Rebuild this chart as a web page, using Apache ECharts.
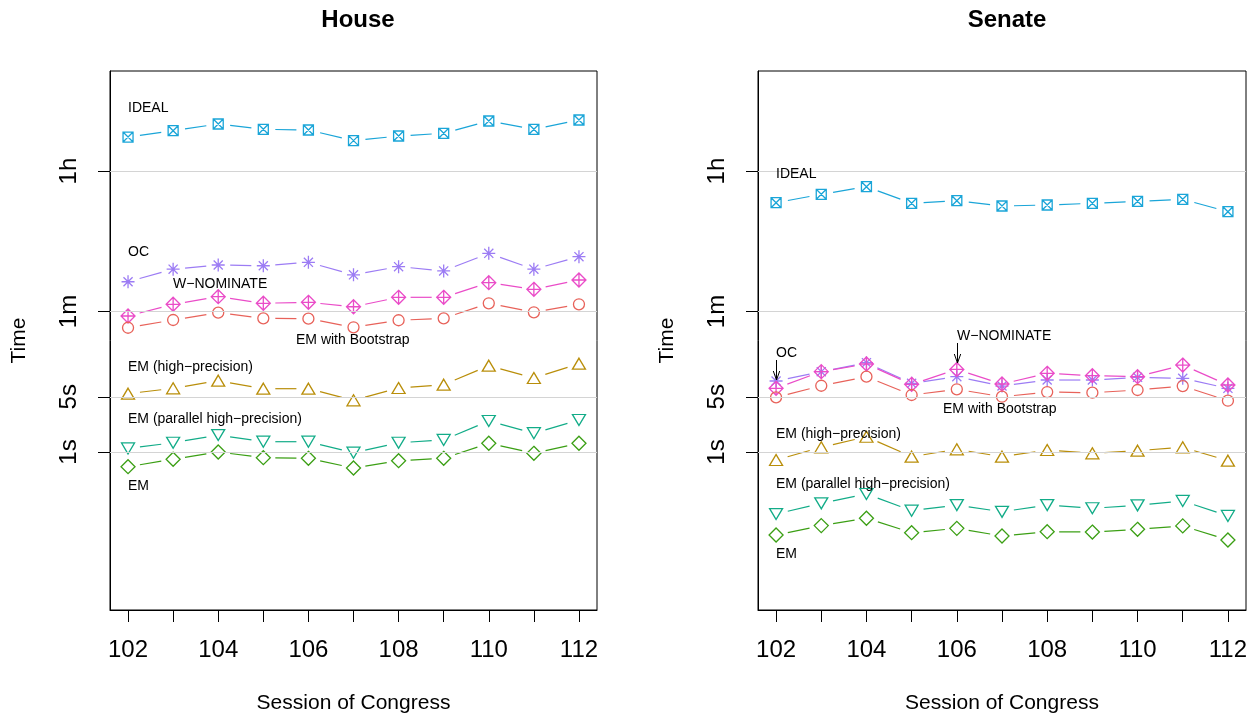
<!DOCTYPE html>
<html><head><meta charset="utf-8">
<script src="https://cdn.jsdelivr.net/npm/echarts@6/dist/echarts.min.js"></script>
<style>html,body{margin:0;padding:0;background:#fff}#c{width:1259px;height:715px}</style>
</head><body><div id="c"></div>
<script>
// ---------------- data ----------------
const sessions = [102, 103, 104, 105, 106, 107, 108, 109, 110, 111, 112];
const xTickValues = [102, 103, 104, 105, 106, 107, 108, 109, 110, 111, 112];
const xLabelValues = [102, 104, 106, 108, 110, 112];
const yTickValues = [1, 5, 60, 3600];
const yTickLabels = ['1s', '5s', '1m', '1h'];
const panelTitles = ['House', 'Senate'];
const methodNames = ['IDEAL', 'OC', 'W\u2212NOMINATE', 'EM with Bootstrap', 'EM (high\u2212precision)', 'EM (parallel high\u2212precision)', 'EM'];

// times in seconds
const houseIDEAL = [9700, 11670, 14190, 12160, 11910, 8730, 10000, 10820, 15490, 12160, 15950];
const houseOC = [143, 206, 233, 228, 252, 175, 222, 196, 327, 206, 297];
const houseWNOM = [52.7, 74.1, 92.5, 76.3, 78.5, 69.0, 90.8, 90.8, 139, 114.6, 150.4];
const houseEMBoot = [37.4, 46.9, 58.0, 49.2, 48.7, 37.9, 46.5, 49.2, 76.3, 58.7, 74.1];
const houseEMHP = [5.47, 6.40, 7.99, 6.33, 6.33, 4.51, 6.46, 7.11, 12.37, 8.65, 13.12];
const houseEMPar = [1.11, 1.31, 1.64, 1.35, 1.35, 0.98, 1.31, 1.42, 2.47, 1.73, 2.54];
const houseEM = [0.652, 0.809, 1.0, 0.847, 0.832, 0.627, 0.776, 0.832, 1.29, 0.963, 1.29];

const senateIDEAL = [1432, 1828, 2281, 1406, 1517, 1300, 1339, 1406, 1490, 1581, 1101];
const senateOC = [7.92, 10.4, 13.5, 7.41, 8.98, 6.84, 8.15, 8.15, 8.82, 8.57, 6.40];
const senateWNOM = [6.40, 10.4, 13.0, 7.19, 11.1, 7.26, 9.91, 9.25, 8.98, 12.6, 7.05];
const senateEMBoot = [4.92, 6.90, 8.98, 5.27, 6.22, 5.01, 5.74, 5.63, 6.09, 6.84, 4.46];
const senateEMHP = [0.792, 1.147, 1.56, 0.873, 1.082, 0.873, 1.06, 0.963, 1.04, 1.147, 0.776];
const senateEMPar = [0.164, 0.224, 0.294, 0.181, 0.213, 0.175, 0.213, 0.194, 0.211, 0.240, 0.155];
const senateEM = [0.089, 0.117, 0.145, 0.0952, 0.108, 0.0865, 0.098, 0.097, 0.105, 0.116, 0.0769];

const houseSeries = [houseIDEAL, houseOC, houseWNOM, houseEMBoot, houseEMHP, houseEMPar, houseEM];
const senateSeries = [senateIDEAL, senateOC, senateWNOM, senateEMBoot, senateEMHP, senateEMPar, senateEM];

// ---------------- styles ----------------
const FONT = '"Liberation Sans", Arial, Helvetica, sans-serif';
const styles = [
  { color: '#1AA5D8', symbol: 'path://M0,0L10,0L10,10L0,10ZM0,0L10,10M10,0L0,10', size: 10, rotate: 0 },
  { color: '#9C7CF4', symbol: 'path://M5,0L5,10M0,5L10,5M1.5,1.5L8.5,8.5M8.5,1.5L1.5,8.5', size: 13, rotate: 0 },
  { color: '#EA4CC8', symbol: 'path://M5,0L10,5L5,10L0,5ZM5,0L5,10M0,5L10,5', size: 14, rotate: 0 },
  { color: '#E8625A', symbol: 'circle', size: 11, rotate: 0 },
  { color: '#B98E0A', symbol: 'triangle', size: [13, 11], rotate: 0 },
  { color: '#12AC88', symbol: 'triangle', size: [13, 11], rotate: 180 },
  { color: '#3B9F14', symbol: 'diamond', size: 14, rotate: 0 }
];
const GAP = 12;

const grids = [
  { left: 110, top: 71, width: 487, height: 539, outerBoundsMode: 'none', containLabel: false, show: true, borderColor: '#000', borderWidth: 1, backgroundColor: 'transparent' },
  { left: 758, top: 71, width: 488, height: 539, outerBoundsMode: 'none', containLabel: false, show: true, borderColor: '#000', borderWidth: 1, backgroundColor: 'transparent' }
];

function yLabel(v) {
  let best = 0, bd = Infinity;
  for (let i = 0; i < yTickValues.length; i++) {
    const d = Math.abs(Math.log10(v) - Math.log10(yTickValues[i]));
    if (d < bd) { bd = d; best = i; }
  }
  return yTickLabels[best];
}

const xAxes = [], yAxes = [], series = [];
[0, 1].forEach(function (g) {
  xAxes.push({
    type: 'value', gridIndex: g, min: 101.6, max: 112.4,
    axisLine: { show: true, onZero: false, lineStyle: { color: '#000', width: 1 } },
    axisTick: { show: true, length: 12, customValues: xTickValues, lineStyle: { color: '#000', width: 1 } },
    axisLabel: { show: true, customValues: xLabelValues, fontSize: 24, margin: 28, color: '#000', fontFamily: FONT },
    splitLine: { show: false },
    name: 'Session of Congress', nameLocation: 'middle', nameGap: 83,
    nameTextStyle: { fontSize: 21, color: '#000', fontFamily: FONT }
  });
  yAxes.push({
    type: 'log', logBase: 10, gridIndex: g, min: 0.01, max: 66500,
    axisLine: { show: true, lineStyle: { color: '#000', width: 1 } },
    axisTick: { show: true, length: 12, customValues: yTickValues, lineStyle: { color: '#000', width: 1 } },
    axisLabel: { show: true, customValues: yTickValues, rotate: 90, fontSize: 24, margin: 29, color: '#000', fontFamily: FONT, formatter: yLabel },
    splitLine: { show: false }, minorTick: { show: false }, minorSplitLine: { show: false },
    name: 'Time', nameLocation: 'middle', nameGap: 80, nameRotate: 90,
    nameTextStyle: { fontSize: 21, color: '#000', fontFamily: FONT }
  });
  // grid lines at the tick values
  series.push({
    type: 'scatter', xAxisIndex: g, yAxisIndex: g, data: [], z: 1, silent: true,
    markLine: {
      silent: true, symbol: 'none', animation: false, label: { show: false },
      lineStyle: { color: '#D4D4D4', type: 'solid', width: 1 },
      data: yTickValues.map(function (v) { return { yAxis: v }; })
    }
  });
  const sets = g === 0 ? houseSeries : senateSeries;
  sets.forEach(function (vals, k) {
    const st = styles[k];
    const segs = [];
    for (let i = 0; i < sessions.length - 1; i++) segs.push([sessions[i], vals[i], sessions[i + 1], vals[i + 1]]);
    series.push({
      type: 'custom', name: methodNames[k], xAxisIndex: g, yAxisIndex: g, z: 2, silent: true,
      data: segs,
      renderItem: function (params, api) {
        const p1 = api.coord([api.value(0), api.value(1)]);
        const p2 = api.coord([api.value(2), api.value(3)]);
        const dx = p2[0] - p1[0], dy = p2[1] - p1[1];
        const len = Math.sqrt(dx * dx + dy * dy);
        if (len <= 2 * GAP) return null;
        const ux = dx / len, uy = dy / len;
        return {
          type: 'line',
          shape: { x1: p1[0] + ux * GAP, y1: p1[1] + uy * GAP, x2: p2[0] - ux * GAP, y2: p2[1] - uy * GAP },
          style: { stroke: st.color, lineWidth: 1.2 }
        };
      }
    });
    series.push({
      type: 'scatter', name: methodNames[k], xAxisIndex: g, yAxisIndex: g, z: 3, silent: true,
      symbol: st.symbol, symbolSize: st.size, symbolRotate: st.rotate,
      itemStyle: { color: 'none', borderColor: st.color, borderWidth: 1.3, opacity: 1 },
      data: sessions.map(function (s, i) { return [s, vals[i]]; })
    });
  });
});

// annotation labels
const annotations = [
  { t: 0, x: 128, y: 108 }, { t: 1, x: 128, y: 252 }, { t: 2, x: 173, y: 284 }, { t: 3, x: 296, y: 340 },
  { t: 4, x: 128, y: 367 }, { t: 5, x: 128, y: 419 }, { t: 6, x: 128, y: 486 },
  { t: 0, x: 776, y: 174 }, { t: 1, x: 776, y: 353 }, { t: 2, x: 957, y: 336 }, { t: 3, x: 943, y: 409 },
  { t: 4, x: 776, y: 434 }, { t: 5, x: 776, y: 484 }, { t: 6, x: 776, y: 554 }
];
const graphics = annotations.map(function (a) {
  return { type: 'text', silent: true, z: 10, style: { text: methodNames[a.t], x: a.x, y: a.y, align: 'left', verticalAlign: 'middle', font: '14px ' + FONT, fill: '#000' } };
});
function arrow(x, y1, y2) {
  graphics.push({ type: 'line', silent: true, z: 10, shape: { x1: x, y1: y1, x2: x, y2: y2 }, style: { stroke: '#000', lineWidth: 1 } });
  graphics.push({ type: 'polyline', silent: true, z: 10, shape: { points: [[x - 3.2, y2 - 9], [x, y2], [x + 3.2, y2 - 9]] }, style: { stroke: '#000', lineWidth: 1, fill: 'none' } });
}
arrow(776.5, 360, 380);
arrow(957.5, 343, 363);

const chart = echarts.init(document.getElementById('c'), null, { renderer: 'canvas' });
chart.setOption({
  animation: false,
  backgroundColor: '#fff',
  title: [
    { text: panelTitles[0], left: 353, top: 3, textAlign: 'center', textStyle: { fontSize: 24, fontWeight: 'bold', color: '#000', fontFamily: FONT } },
    { text: panelTitles[1], left: 1002, top: 3, textAlign: 'center', textStyle: { fontSize: 24, fontWeight: 'bold', color: '#000', fontFamily: FONT } }
  ],
  grid: grids,
  xAxis: xAxes,
  yAxis: yAxes,
  series: series,
  graphic: graphics
});
</script>
</body></html>
